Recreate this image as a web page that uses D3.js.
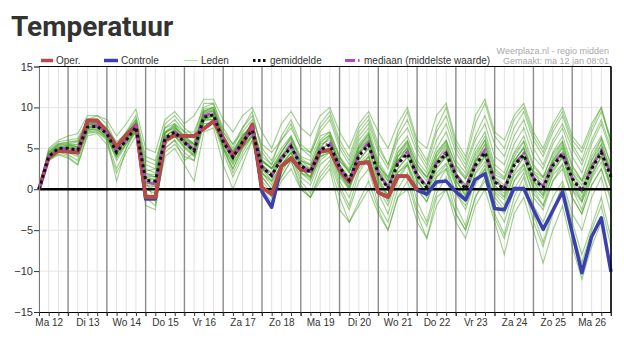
<!DOCTYPE html>
<html>
<head>
<meta charset="utf-8">
<script src="https://cdn.jsdelivr.net/npm/d3@7"></script>
<style>
    body { margin: 0; background: #ffffff; }
    svg text { font-family: "Liberation Sans", Arial, sans-serif; }
</style>
</head>
<body>
<svg id="chart" width="624" height="351"></svg>
<script>

// steps of 6 hours, from ma 12 06:00 until di 27 00:00
var dayLabels = [ 'Ma 12', 'Di 13', 'Wo 14', 'Do 15', 'Vr 16', 'Za 17', 'Zo 18', 'Ma 19',
                  'Di 20', 'Wo 21', 'Do 22', 'Vr 23', 'Za 24', 'Zo 25', 'Ma 26' ];
var yTicks = [ -15, -10, -5, 0, 5, 10, 15 ];

var oper = [ 0, 3.9, 4.7, 4.6, 4.5, 8.4, 8.4, 7.0, 5.2, 6.6, 7.8,
             -0.95, -0.95, 6.0, 6.6, 6.5, 6.5, 7.4, 8.3, 6.2, 4.1,
             5.5, 7.9, 0.2, -0.6, 2.8, 3.8, 2.4, 2.2, 4.6, 4.8,
             2.4, 0.9, 3.2, 3.3, -0.4, -0.95, 1.6, 1.6, -0.1 ];

var controle = [ 0, 3.9, 4.7, 4.6, 4.5, 8.4, 8.4, 7.0, 5.2, 6.6, 7.8,
                 -1.2, -1.2, 6.0, 6.6, 6.5, 6.5, 7.4, 8.3, 6.2, 4.1,
                 5.5, 7.9, -0.3, -2.2, 2.8, 3.8, 2.4, 2.2, 4.6, 4.8,
                 2.4, 0.9, 3.2, 3.3, -0.4, -0.95, 1.6, 1.6, -0.1,
                 -0.6, 0.9, 1.0, -0.3, -1.3, 1.2, 1.9, -2.35, -2.5, 0.1,
                 0.1, -2.5, -4.9, -2.6, -0.3, -5.3, -10.2, -5.8, -3.5, -10.1 ];

var gemiddelde = [ 0, 4.0, 5.0, 5.0, 4.8, 7.6, 7.7, 6.8, 4.5, 6.0, 7.6,
                   1.1, 1.0, 6.2, 7.0, 5.7, 4.7, 8.8, 9.1, 5.8, 3.9,
                   5.8, 7.2, 2.7, 1.7, 3.7, 5.2, 2.9, 2.1, 4.75, 5.45,
                   2.7, 1.1, 4.1, 5.4, 1.9, 0.1, 3.1, 4.35, 1.7, 0.2,
                   3.1, 4.35, 1.7, 0.0, 2.9, 4.5, 0.9, 0.0, 2.9, 4.2,
                   1.3, 0.2, 2.9, 4.3, 1.3, -0.3, 2.5, 4.5, 1.5 ];

var mediaan = [ 0, 4.0, 5.0, 4.9, 4.8, 7.7, 7.8, 6.9, 4.7, 6.0, 7.7,
                0.9, 0.6, 6.3, 7.0, 5.8, 4.8, 9.0, 9.3, 5.9, 4.0,
                5.9, 7.4, 2.8, 1.6, 3.8, 5.5, 3.0, 2.0, 4.8, 5.8,
                2.6, 1.0, 4.3, 5.7, 2.0, 0.2, 3.2, 4.6, 1.8, 0.3,
                3.2, 4.6, 1.8, 0.2, 3.0, 4.8, 1.0, 0.2, 3.0, 4.4,
                1.4, 0.4, 3.0, 4.5, 1.4, -0.1, 2.6, 4.8, 1.7 ];

// ensemble members (leden)
var lidA = [ 0, 4.5, 5.5, 5.5, 5.5, 8, 8.2, 7.5, 5, 6.5, 8,
             2, 1.5, 7, 8, 6.5, 5.5, 9.5, 10, 6.5, 4.5,
             6.5, 8, 3.5, 2.5, 4.5, 6.5, 3.5, 3, 6, 7,
             4, 2.5, 6, 7.5, 3.5, 1.5, 5, 6.5, 3.5, 2,
             5, 7, 3.5, 2, 5, 7, 3, 2, 5.5, 7.5,
             4, 2.5, 5.5, 7.5, 4, 2, 5.5, 8, 4.5 ];
var lidB = [ 0, 3.8, 4.5, 4.5, 4, 7, 7.2, 6.5, 3.5, 5.5, 7,
             0, -0.5, 5.5, 6.5, 5, 4, 8.5, 8.5, 5, 2.5,
             5, 6.5, 1.5, 0, 2.5, 4, 1.5, 0.5, 3.5, 4.5,
             1, -1, 2.5, 4, 0, -2, 1.5, 3, 0, -1.5,
             1.5, 3, -0.5, -2.5, 1, 3, -1.5, -3, 1, 3,
             -1, -2.5, 1, 3, -1, -3, 0.5, 2.5, -1 ];
var lidC = [ 0, 4.2, 5, 5.2, 5, 7.8, 7.5, 6.8, 4.8, 6.2, 7.8,
             1.5, 1, 6.5, 7.2, 6, 5, 9, 9.5, 6, 4,
             6, 7.5, 3, 2, 4, 5.5, 3, 2, 5, 5.5,
             3, 1.5, 4.5, 6, 2, 0.5, 3.5, 5, 2, 0.5,
             3.5, 5, 2, 0.5, 3.5, 5.5, 1.5, 0.5, 3.5, 5,
             2, 0.5, 3.5, 5, 2, 0, 3, 5, 2 ];
var lidD = [ 0, 4.8, 5.8, 6, 6.2, 8.5, 9, 8, 5.5, 7, 8.5,
             3, 2.5, 8, 9, 7.5, 6.5, 10.5, 10.5, 7.5, 5.5,
             7.5, 9, 5, 3.5, 6, 8, 5, 4, 7.5, 9,
             5.5, 3.5, 7, 8.5, 5, 3, 6.5, 8.5, 5, 3,
             7, 9, 5, 3, 6.5, 9, 5.5, 4, 7.5, 9.5,
             6, 4, 7, 9, 5.5, 3.5, 7, 9.5, 6 ];
var lidE = [ 0, 3.6, 4.3, 4, 3, 6.8, 7, 6, 2.5, 5, 7.2,
             -1, -2, 4.5, 5.5, 4, 3.5, 8, 8, 4.5, 1.5,
             4, 6, 0.5, -1, 1.5, 3.5, 0.5, -1, 2, 3.5,
             0, -2.5, 1, 2.5, -2, -4, 0, 2, -2.5, -4.5,
             -0.5, 1.5, -3, -5, -1, 1.5, -3.5, -6, -2, 0.5,
             -4, -7, -3, 0, -5, -9, -5, -2, -7 ];
var lidF = [ 0, 4.3, 5.2, 5.3, 5.5, 8, 8, 7, 5.2, 6.3, 8.2,
             2.5, 2, 7, 7.5, 6.5, 5.5, 9.5, 9.8, 6.5, 4.5,
             6.5, 7.8, 4, 3, 5, 6.5, 4, 3.5, 6.5, 7,
             4, 2, 5.5, 7, 3, 1, 4.5, 6, 3, 1.5,
             4.5, 6, 3, 1.5, 4.5, 6.5, 2.5, 1.5, 4.5, 6.5,
             3, 1.5, 4.5, 6.5, 3, 1, 4.5, 6.5, 3 ];
var lidG = [ 0, 3.5, 4.5, 4.2, 3.5, 7.2, 7.5, 6.2, 1, 5, 7.5,
             -2, -2.5, 5, 6, 3.5, 4.5, 8.5, 9, 5, 2.5,
             5, 6.5, 2, 0.5, 3, 4.5, 2, 1, 4, 5,
             2, 0, 3.5, 5, 1, -1, 2.5, 4, 1, -0.5,
             2.5, 4, 0.5, -1.5, 2, 4, -0.5, -2, 2, 4,
             0, -2, 2, 4, 0, -2.5, 1.5, 4, 0 ];
var lidH = [ 0, 5, 6, 6.5, 6.8, 9, 9, 8.5, 6.5, 8, 9.8,
             5, 4.5, 8.5, 9.5, 8, 9, 11, 11, 8.5, 7,
             9, 10, 7, 5, 8, 9.5, 7.5, 6.5, 9, 10,
             7, 5, 8, 9.5, 7, 5, 8, 10, 6, 5,
             9, 10.5, 6, 4, 9, 11, 7, 6, 9, 10.5,
             7, 5, 8, 10, 6.5, 5, 8, 10, 6 ];
var lidI = [ 0, 3.8, 4.8, 4.8, 4.5, 7.3, 7.3, 6.5, 4, 5.8, 7.3,
             0.5, 0, 5.8, 6.5, 5.2, 4.2, 8.5, 8.8, 5.2, 3,
             5.2, 6.8, 1, -0.5, 1.5, 3.5, 0, -1, 1, 2.5,
             -2.5, -4, -2, 0, -3, -5, -1, 0, -4, -6,
             -1, 0, -3, -5, -1, 1, -2, -4, 0, 2,
             -2, -4, -1, 1, -3, -5, -1, 1.5, -3 ];
var lidJ = [ 0, 4, 4.8, 5, 5.2, 7.5, 7.8, 7, 4.7, 6, 7.5,
             1, 0.5, 6, 7, 6, 5, 9, 9, 6.2, 4.2,
             6.2, 7.5, 3.5, 2.5, 4, 5, 2.5, 1.5, 4.5, 5,
             2.5, 1, 4.5, 5.5, 2.5, 0.5, 3.5, 4.5, 1.5, 0,
             3, 4, 1, -0.5, 2.5, 4, 0.5, -0.5, 3, 4.5,
             1, 0, 3, 4.5, 1.5, -0.5, 2.5, 4.5, 1.5 ];
var lidK = [ 0, 4.5, 5.5, 5.8, 5.8, 8.2, 8.5, 7.5, 5.5, 7, 9,
             4, 3.5, 7.5, 8.5, 7, 7, 10, 10.5, 7, 5,
             7.5, 9.5, 4.5, 3, 6.5, 8.5, 5.5, 4.5, 8, 9.5,
             6, 4, 7.5, 9, 5.5, 3, 7, 9.5, 5.5, 3.5,
             7.5, 10, 5.5, 3.5, 8, 10.5, 6.5, 5, 8.5, 10,
             6.5, 4.5, 7.5, 9.5, 6, 4.5, 7.5, 10, 5.5 ];
var lidL = [ 0, 3.7, 4.6, 4.6, 4.2, 7, 7, 6.2, 3.8, 5.5, 7,
             -0.5, -1, 5, 6, 4.5, 3.5, 8, 8.2, 5, 2,
             4.5, 6.5, 1.5, 0, 2, 4, 1, -0.5, 3, 4,
             0.5, -2, 2, 4, -0.5, -3, 1, 3, -1.5, -4,
             0.5, 2.5, -2, -4.5, 0.5, 2.5, -3, -5.5, -1, 1.5,
             -3, -6.5, -2.5, 0.5, -4, -8, -4.5, -1, -6 ];
var lidN = [ 0, 4.1, 5.1, 5, 5, 7.7, 7.9, 6.9, 4.3, 6.1, 7.9,
             1.8, 1.5, 6.5, 7.3, 5.8, 4.8, 8.8, 9.3, 5.8, 3.5,
             5.8, 7, 2.5, 1.5, 4, 5.5, 3, 2.5, 5.5, 6,
             3.5, 2, 5, 6.5, 2.5, 1, 4, 5.5, 2.5, 1,
             4, 5.5, 2, 0.5, 3.5, 5, 1.5, 0, 3.5, 5,
             2, 1, 3.5, 5.5, 2, 0.5, 3.5, 5.5, 2.5 ];
var lidO = [ 0, 3.9, 4.9, 5.1, 4.6, 7.4, 7.6, 6.6, 4.4, 5.9, 7.4,
             0.8, 0.3, 6, 6.8, 5.5, 4.5, 8.8, 9, 5.5, 3.8,
             5.5, 7, 2, 1, 3, 4.5, 2, 1.5, 4, 4.5,
             1.5, 0, 3, 4, 0.5, -1.5, 2, 3, 0, -1.5,
             1.5, 2.5, -0.5, -2, 1, 2.5, -1, -2.5, 1, 2.5,
             -0.5, -2, 1, 2.5, -1, -3, 0.5, 2.5, -1.5 ];
var lidP = [ 0, 3.5, 4.2, 3.8, 3, 6.5, 6.8, 5.5, 2, 4.5, 6.5,
             1, -1.5, 4, 5, 3, 1, 7, 7.5, 3, 0,
             3, 6, 0, -1.5, 1, 2.5, 0, -1, 1.5, 3,
             -1, -4, -1.5, 1, -2.5, -5, -1, 1, -3, -6,
             -2, 0, -4, -6, -2, 0, -4, -8, -3, -1,
             -5, -9, -5, -2, -7, -11, -7, -4, -10 ];
var lidQ = [ 0, 4.6, 5.6, 5.7, 6, 8.3, 8.3, 7.3, 5.8, 6.8, 8.6,
             3.5, 3, 7.5, 8, 7, 6.2, 9.8, 10, 7, 5.5,
             7, 8.5, 5.5, 4.5, 6, 7.5, 5, 4.5, 7, 8.5,
             5, 3, 6.5, 8, 4.5, 2.5, 6, 7.5, 4.5, 2.5,
             6, 8, 4.5, 2.5, 6, 8, 4, 3, 6.5, 8.5,
             5, 3, 6, 8, 5, 3, 6, 8.5, 5 ];
var lidR = [ 0, 4.3, 4.9, 5.5, 5.8, 7.9, 8.1, 7.2, 4.9, 6.6, 8.4,
             2.2, 2.5, 6.8, 7.8, 5.5, 5.8, 9.2, 9.6, 6.4, 4.6,
             6.8, 7.2, 3.5, 2.5, 3.5, 5, 3.5, 2.5, 5, 6.5,
             3, 1, 5, 6, 2, 0, 4, 5, 1.5, 0.5,
             3, 4.5, 1.5, 0, 3, 4.5, 1, 0, 3, 4,
             1, -0.5, 2.5, 4, 1, -1, 2, 4, 0.5 ];
var lidS = [ 0, 4.4, 5.3, 5.4, 5.2, 8.1, 8.2, 7.3, 5.3, 6.5, 8.1,
             1.9, 1.8, 6.8, 7.6, 6.3, 5.5, 9.4, 9.7, 6.6, 4.7,
             6.5, 7.9, 3.6, 2.6, 4.6, 6.2, 3.8, 3, 5.8, 6.6,
             3.8, 2.2, 5.3, 6.7, 3.1, 1.3, 4.4, 5.8, 3, 1.4,
             4.4, 5.9, 2.9, 1.2, 4.2, 6, 2.2, 1.3, 4.3, 5.9,
             2.7, 1.5, 4.3, 5.9, 2.7, 1.1, 4, 6.2, 3 ];
var lidT = [ 0, 3.8, 4.7, 4.7, 4.4, 7.2, 7.3, 6.3, 4, 5.6, 7.2,
             0.5, 0.3, 5.7, 6.6, 5.2, 4.1, 8.3, 8.6, 5.2, 3.2,
             5.2, 6.7, 2, 0.9, 3, 4.4, 2.1, 1.2, 3.9, 4.6,
             1.8, 0.2, 3.2, 4.4, 0.8, -1, 2, 3.3, 0.5, -1,
             2, 3.2, 0.5, -1.2, 1.8, 3.4, -0.3, -1.3, 1.7, 3.1,
             0.1, -1.1, 1.7, 3.1, 0, -1.6, 1.3, 3.3, 0.2 ];
var lidU = [ 0, 4.2, 5.1, 5.1, 4.6, 7.9, 8, 6.9, 4.2, 6.3, 8,
             0.9, 0.6, 6.4, 7.4, 5.6, 4.4, 9.3, 9.6, 5.6, 3.4,
             6.2, 7.8, 2.4, 1.1, 4.1, 5.9, 2.6, 1.4, 5.2, 6.3,
             2.4, 0.4, 4.6, 6.3, 1.5, -0.8, 3.4, 5.2, 1.3, -0.7,
             3.5, 5.3, 1.3, -0.9, 3.3, 5.5, 0.5, -0.9, 3.4, 5.2,
             0.9, -0.8, 3.3, 5.2, 0.8, -1.4, 2.9, 5.5, 1 ];
var lidV = [ 0, 4.1, 4.9, 5.2, 5.3, 7.5, 7.6, 7, 5, 6.2, 7.5,
             1.6, 1.5, 6.1, 7, 6.2, 5.4, 8.6, 9, 6.3, 4.5,
             6, 7.1, 3.3, 2.6, 4, 5.3, 3.5, 2.9, 4.8, 5.6,
             3.4, 2.3, 4.4, 5.4, 2.8, 1.5, 3.6, 4.6, 2.6, 1.5,
             3.5, 4.5, 2.5, 1.3, 3.3, 4.6, 1.8, 1.2, 3.3, 4.5,
             2.2, 1.4, 3.3, 4.6, 2.2, 1, 3, 4.8, 2.4 ];
var lidW = [ 0, 3.9, 5, 4.9, 4.9, 7.6, 7.6, 6.7, 4.6, 5.9, 7.7,
             1.3, 0.8, 6.2, 6.9, 5.9, 4.9, 8.7, 8.9, 5.9, 4.1,
             5.6, 7, 2.5, 1.5, 3.4, 4.8, 2.4, 1.6, 4.3, 5,
             2, 0.3, 3.6, 5, 1.2, -0.7, 2.5, 3.9, 1, -0.6,
             2.6, 4, 1, -0.8, 2.5, 4.2, 0, -1, 2.3, 3.8,
             0.5, -0.8, 2.3, 3.8, 0.4, -1.5, 1.8, 4, 0.5 ];
var lidX = [ 0, 4.3, 5.4, 5.6, 5.1, 7.9, 8, 7.1, 4.9, 6.4, 8.2,
             1.5, 1.2, 6.9, 7.8, 6.2, 5.2, 9.6, 10, 6.3, 4.2,
             6.4, 8.1, 3, 1.9, 4.5, 6.2, 3.2, 2.3, 5.6, 6.7,
             3, 1.2, 5.1, 6.8, 2.2, 0.2, 4, 5.8, 2, 0.4,
             4, 5.8, 2, 0.2, 3.8, 6, 1.1, 0.1, 3.9, 5.8,
             1.6, 0.3, 3.9, 5.8, 1.5, -0.4, 3.5, 6.1, 1.8 ];

var leden = [ lidA, lidB, lidC, lidD, lidE, lidF, lidG, lidH, lidI, lidJ, lidK, lidL,
              lidN, lidO, lidP, lidQ, lidR, lidS, lidT, lidU, lidV, lidW, lidX ];

var svg = d3.select('#chart');

var plotLeft = 39, plotRight = 611, plotTop = 66.5, plotBottom = 312;

var steps = d3.range( 0, controle.length );

var x = d3.scaleLinear()
    .domain([ 0, steps.length - 1 ])
    .range([ plotLeft, plotRight ]);

var y = d3.scaleLinear()
    .domain([ -15, 15 ])
    .range([ plotBottom, plotTop ]);

// midnight every 4 steps, first one is di 13 00:00
function isMidnight ( i ) {

    return ( i - 3 ) % 4 === 0;

}

/* title + legend */

svg.append('text')
    .attr('x', 11)
    .attr('y', 36)
    .style('font-family', 'Roboto, sans-serif')
    .style('font-weight', 'bold')
    .style('font-size', '28px')
    .style('fill', '#333333')
    .text('Temperatuur');

svg.append('text')
    .attr('x', 609)
    .attr('y', 54)
    .attr('text-anchor', 'end')
    .style('font-size', '9px')
    .style('fill', '#a8a8a8')
    .text('Weerplaza.nl - regio midden');

svg.append('text')
    .attr('x', 609)
    .attr('y', 63.5)
    .attr('text-anchor', 'end')
    .style('font-size', '9px')
    .style('fill', '#a8a8a8')
    .text('Gemaakt: ma 12 jan 08:01');

var legend = svg.append('g').attr('class', 'legend');

var legendItems = [
    { label: 'Oper.', x: 41, w: 12, color: '#bb4a44', width: 3.5, dash: 'none' },
    { label: 'Controle', x: 104, w: 14, color: '#3c3fae', width: 3.5, dash: 'none' },
    { label: 'Leden', x: 184, w: 14, color: '#b9dcaa', width: 1.2, dash: 'none' },
    { label: 'gemiddelde', x: 253, w: 14, color: '#111111', width: 3, dash: '2.5,2.5' },
    { label: 'mediaan (middelste waarde)', x: 345, w: 16, color: '#b347c8', width: 3, dash: '10,3,1.5,3' }
];

legendItems.forEach( function ( d ) {

    legend.append('line')
        .attr('x1', d.x)
        .attr('x2', d.x + d.w)
        .attr('y1', 60.5)
        .attr('y2', 60.5)
        .style('stroke', d.color)
        .style('stroke-width', d.width)
        .style('stroke-dasharray', d.dash);

    legend.append('text')
        .attr('x', d.x + d.w + 3)
        .attr('y', 64)
        .style('font-size', '10px')
        .style('fill', '#333333')
        .text( d.label );

});

/* grid */

var grid = svg.append('g');

grid.selectAll('.hgrid')
    .data([ -10, -5, 5, 10 ])
    .enter().append('line')
    .attr('x1', plotLeft)
    .attr('x2', plotRight)
    .attr('y1', function ( d ) { return y( d ); })
    .attr('y2', function ( d ) { return y( d ); })
    .style('stroke', '#e4e4e4')
    .style('stroke-width', 1);

grid.selectAll('.vgrid')
    .data( steps.filter( function ( i ) { return !isMidnight( i ); }) )
    .enter().append('line')
    .attr('x1', function ( d ) { return x( d ); })
    .attr('x2', function ( d ) { return x( d ); })
    .attr('y1', plotTop)
    .attr('y2', plotBottom)
    .style('stroke', '#e2e2e2')
    .style('stroke-width', 1);

grid.selectAll('.daygrid')
    .data( steps.filter( isMidnight ) )
    .enter().append('line')
    .attr('x1', function ( d ) { return x( d ); })
    .attr('x2', function ( d ) { return x( d ); })
    .attr('y1', plotTop)
    .attr('y2', plotBottom + 4)
    .style('stroke', '#8c8c8c')
    .style('stroke-width', 1.4);

/* series */

var line = d3.line()
    .x( function ( d, i ) { return x( i ); })
    .y( function ( d ) { return y( d ); });

svg.append('g')
    .selectAll('path')
    .data( leden )
    .enter().append('path')
    .attr('d', line)
    .style('fill', 'none')
    .style('stroke', '#45a123')
    .style('stroke-opacity', 0.5)
    .style('stroke-width', 1.15);

// zero line
svg.append('line')
    .attr('x1', plotLeft)
    .attr('x2', plotRight)
    .attr('y1', y( 0 ))
    .attr('y2', y( 0 ))
    .style('stroke', '#000000')
    .style('stroke-width', 2.5);

svg.append('path')
    .datum( controle )
    .attr('d', line)
    .style('fill', 'none')
    .style('stroke', '#3c3fae')
    .style('stroke-width', 3.5)
    .style('stroke-linejoin', 'round');

svg.append('path')
    .datum( oper )
    .attr('d', line)
    .style('fill', 'none')
    .style('stroke', '#b84a42')
    .style('stroke-width', 3.8)
    .style('stroke-linejoin', 'round');

svg.append('path')
    .datum( mediaan )
    .attr('d', line)
    .style('fill', 'none')
    .style('stroke', '#b347c8')
    .style('stroke-width', 2.6)
    .style('stroke-dasharray', '8,3,2,3');

svg.append('path')
    .datum( gemiddelde )
    .attr('d', line)
    .style('fill', 'none')
    .style('stroke', '#111111')
    .style('stroke-width', 3)
    .style('stroke-dasharray', '3,3');

/* axes */

var yAxis = svg.append('g')
    .attr('transform', 'translate(' + plotLeft + ',0)')
    .call( d3.axisLeft( y ).tickValues( yTicks ).tickSize( 5 ).tickPadding( 1 ) );

yAxis.select('.domain').style('stroke', '#777777');
yAxis.selectAll('.tick line').style('stroke', '#333333');
yAxis.selectAll('text')
    .style('font-size', '11px')
    .style('fill', '#333333')
    .style('font-family', '"Liberation Sans", Arial, sans-serif');

var xAxis = svg.append('g')
    .attr('transform', 'translate(0,' + plotBottom + ')')
    .call( d3.axisBottom( x ).tickValues( steps ).tickSize( 4 ).tickFormat('') );

xAxis.select('.domain').style('stroke', '#000000');
xAxis.selectAll('.tick line').style('stroke', '#333333');

var labelAxis = svg.append('g')
    .attr('transform', 'translate(0,' + plotBottom + ')')
    .call( d3.axisBottom( x )
        .tickValues( dayLabels.map( function ( d, i ) { return 1 + i * 4; }) )
        .tickSize( 0 )
        .tickPadding( 7 )
        .tickFormat( function ( d, i ) { return dayLabels[ i ]; }) );

labelAxis.select('.domain').remove();
labelAxis.selectAll('text')
    .style('font-size', '10px')
    .style('fill', '#333333')
    .style('font-family', '"Liberation Sans", Arial, sans-serif');

// frame top + right
svg.append('line')
    .attr('x1', plotLeft).attr('x2', plotRight)
    .attr('y1', plotTop).attr('y2', plotTop)
    .style('stroke', '#000000')
    .style('stroke-width', 1);

svg.append('line')
    .attr('x1', plotRight).attr('x2', plotRight)
    .attr('y1', plotTop).attr('y2', plotBottom)
    .style('stroke', '#000000')
    .style('stroke-width', 1.5);

</script>
</body>
</html>
